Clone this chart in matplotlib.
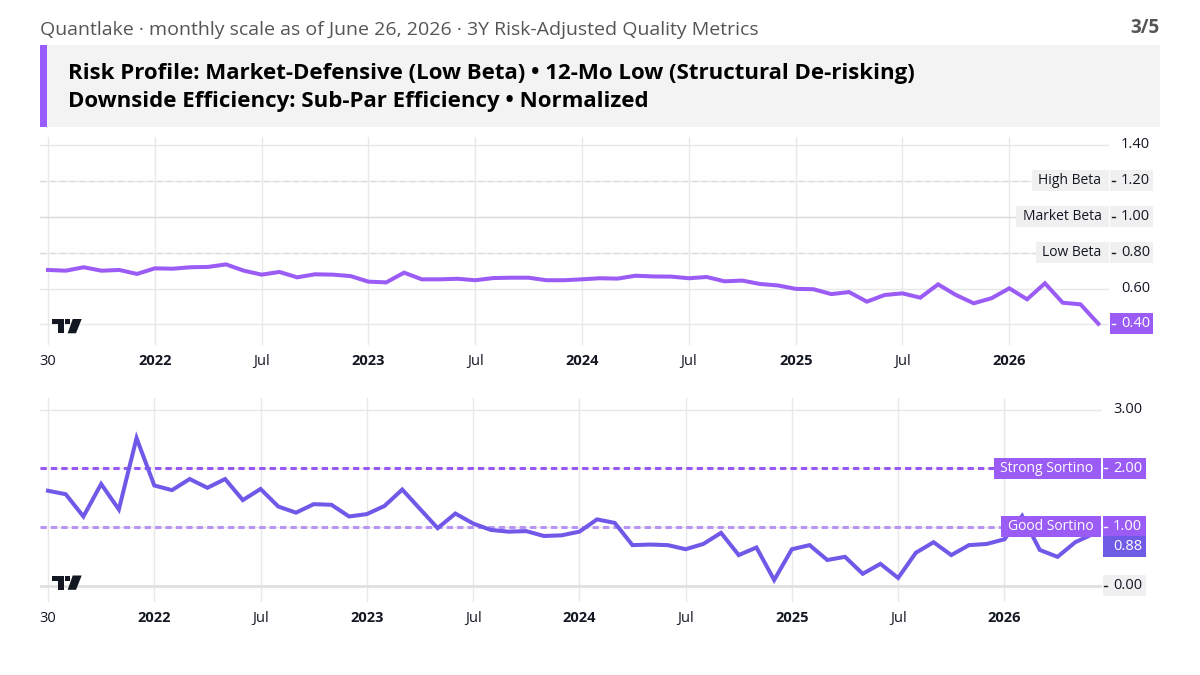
# Quantlake - 3Y beta e sortino (mensal)

import numpy as np
import matplotlib
matplotlib.use('Agg')
import matplotlib.pyplot as plt
from matplotlib.patches import Rectangle, Polygon

plt.rcParams['font.family'] = ['Open Sans', 'DejaVu Sans']
plt.rcParams['lines.scale_dashes'] = False

# dados (jul/2021 .. jun/2026, fim de mes)
x_labels = ['30', '2022', 'Jul', '2023', 'Jul', '2024', 'Jul', '2025', 'Jul', '2026']
x_label_pos = [0, 6, 12, 18, 24, 30, 36, 42, 48, 54]

beta = [0.703, 0.699, 0.718, 0.699, 0.703, 0.681, 0.712, 0.710, 0.718, 0.720,
        0.734, 0.699, 0.677, 0.692, 0.662, 0.679, 0.677, 0.669, 0.638, 0.634,
        0.688, 0.651, 0.651, 0.654, 0.646, 0.658, 0.660, 0.660, 0.646, 0.646,
        0.651, 0.657, 0.655, 0.671, 0.667, 0.666, 0.657, 0.664, 0.640, 0.644,
        0.625, 0.617, 0.598, 0.596, 0.569, 0.580, 0.527, 0.564, 0.573, 0.549,
        0.623, 0.564, 0.518, 0.546, 0.601, 0.540, 0.629, 0.521, 0.512, 0.404]

sortino = [1.62, 1.56, 1.18, 1.735, 1.30, 2.52, 1.71, 1.63, 1.82, 1.67,
           1.82, 1.46, 1.65, 1.35, 1.245, 1.39, 1.38, 1.18, 1.22, 1.36,
           1.64, 1.31, 0.98, 1.23, 1.06, 0.95, 0.92, 0.93, 0.846, 0.858,
           0.92, 1.13, 1.07, 0.69, 0.70, 0.69, 0.62, 0.71, 0.90, 0.52,
           0.65, 0.094, 0.62, 0.69, 0.436, 0.49, 0.20, 0.37, 0.13, 0.56,
           0.74, 0.52, 0.69, 0.71, 0.79, 1.19, 0.607, 0.49, 0.74, 0.88]

beta_ticks = [1.40, 1.20, 1.00, 0.80, 0.60, 0.40]
beta_bands = [1.20, 1.00, 0.80]
beta_band_names = ['High Beta', 'Market Beta', 'Low Beta']

sortino_ticks = [3.00, 2.00, 1.00, 0.00]
sortino_bands = [2.00, 1.00]
sortino_band_names = ['Strong Sortino', 'Good Sortino']

subtitle = 'Quantlake · monthly scale as of June 26, 2026 · 3Y Risk-Adjusted Quality Metrics'
header1 = 'Risk Profile: Market-Defensive (Low Beta) • 12-Mo Low (Structural De-risking)'
header2 = 'Downside Efficiency: Sub-Par Efficiency • Normalized'

c_beta = '#9b5cf6'
c_sort = '#7158e8'
c_strong = '#9659f6'
c_good = '#b794f6'
c_grid = '#e8e8e8'
c_text = '#131722'
c_box = '#f0f0f0'
fs = 10

W, H = 1200, 675


def fpx(x, y):
    return (x / W, 1 - y / H)


fig = plt.figure(figsize=(12, 6.75), dpi=100)
fig.patch.set_facecolor('white')

ax1 = fig.add_axes([40 / W, 1 - 345 / H, (1109 - 40) / W, 208 / H])
ax2 = fig.add_axes([40 / W, 1 - 602 / H, (1102 - 40) / W, 204 / H])

idx = np.arange(len(beta))

for ax in (ax1, ax2):
    for s in ax.spines.values():
        s.set_visible(False)
    ax.set_xticks(x_label_pos)
    ax.set_xticklabels(x_labels)
    ax.tick_params(axis='x', length=0, pad=6.5, labelsize=10.5, labelcolor=c_text)
    ax.tick_params(axis='y', length=0, labelleft=False, labelright=False)
    ax.grid(True, color=c_grid, lw=1, zorder=0)
    ax.set_axisbelow(True)
    for t in ax.get_xticklabels():
        if len(t.get_text()) == 4:
            t.set_fontweight('bold')

ax1.set_yticks(beta_ticks)
ax1.set_xlim(-0.449, 59.6)
ax1.set_ylim(0.286, 1.442)
ax2.set_yticks(sortino_ticks)
ax2.set_xlim(-0.452, 59.51)
ax2.set_ylim(-0.282, 3.205)

# linhas de referencia
for v in beta_bands:
    ls = '-' if v == 1.0 else (0, (4, 3))
    ax1.axhline(v, color='#dcdcdc', lw=1, ls=ls, zorder=1)
ax2.axhline(0, color='#e0e0e0', lw=2, zorder=1)
ax2.axhline(sortino_bands[0], color=c_strong, lw=2.2, ls=(0, (4.5, 3)), zorder=2)
ax2.axhline(sortino_bands[1], color=c_good, lw=2.2, ls=(0, (4.5, 3)), zorder=2)

ax1.plot(idx, beta, color=c_beta, lw=2.9, zorder=3, solid_joinstyle='miter')
ax2.plot(idx, sortino, color=c_sort, lw=2.9, zorder=3, solid_joinstyle='miter')

fig.canvas.draw()
renderer = fig.canvas.get_renderer()


def ppu(ax):
    bb = ax.get_window_extent()
    y0, y1 = ax.get_ylim()
    return bb.width, bb.height / (y1 - y0)


def price_tag(ax, v, text, face, tc, x0, x1, tx, tick=True, dy=0):
    aw, pu = ppu(ax)
    tr = ax.get_yaxis_transform()
    yc = v + dy / pu
    hu = 21 / pu
    if face is not None:
        ax.add_patch(Rectangle((1 + x0 / aw, yc - hu / 2), (x1 - x0) / aw, hu,
                               transform=tr, facecolor=face, edgecolor='none',
                               clip_on=False, zorder=6))
    if tick:
        ax.plot([1 + (x0 + 1.5) / aw, 1 + (x0 + 4.5) / aw], [yc, yc], color=tc,
                lw=1, transform=tr, clip_on=False, zorder=7)
    ax.text(1 + tx / aw, yc, text, transform=tr, ha='left', va='center',
            fontsize=fs + 0.5, color=tc, zorder=7, clip_on=False)


def name_tag(ax, v, text, face, tc, right_gap, text_gap):
    aw, pu = ppu(ax)
    tr = ax.get_yaxis_transform()
    t = ax.text(1 - text_gap / aw, v, text, transform=tr, ha='right', va='center',
                fontsize=fs, color=tc, zorder=7, clip_on=False)
    tw = t.get_window_extent(renderer).width
    x0 = -(text_gap + tw + 6.5)
    hu = 21 / pu
    ax.add_patch(Rectangle((1 + x0 / aw, v - hu / 2), (x0 * -1 - right_gap) / aw, hu,
                           transform=tr, facecolor=face, edgecolor='none',
                           clip_on=False, zorder=6))


# escala da direita - beta
for v in beta_ticks[:-1]:
    if v in beta_bands:
        price_tag(ax1, v, '%.2f' % v, c_box, c_text, 1, 44, 12)
    else:
        price_tag(ax1, v, '%.2f' % v, None, c_text, 1, 44, 12, tick=False)
for v, name in zip(beta_bands, beta_band_names):
    name_tag(ax1, v, name, c_box, c_text, 0.5, 7.5)
price_tag(ax1, beta[-1], '%.2f' % beta[-1], c_beta, 'white', 1, 44, 12)

# escala da direita - sortino
price_tag(ax2, 3.0, '3.00', None, c_text, 0.5, 44, 11, tick=False)
for v, name in zip(sortino_bands, sortino_band_names):
    price_tag(ax2, v, '%.2f' % v, c_beta, 'white', 0.5, 44, 11)
    name_tag(ax2, v, name, c_beta, 'white', 1, 8.5)
price_tag(ax2, 0.0, '0.00', c_box, c_text, 0.5, 44, 11)
aw2, pu2 = ppu(ax2)
shift = min(0, (1.0 - sortino[-1]) * pu2 - 20)
price_tag(ax2, sortino[-1], '%.2f' % sortino[-1], '#6f5ce6', 'white', 0.5, 44, 11,
          tick=False, dy=shift)

# logo TV
for base_y in (319, 575.5):
    bx = 51.7
    tshape = [(0, 0), (12.6, 0), (12.6, 14.3), (6.6, 14.3), (6.6, 5), (0, 5)]
    slash = [(21, 0), (30, 0), (24.3, 14.3), (16, 14.3)]
    fig.add_artist(Polygon([fpx(bx + a, base_y + b) for a, b in tshape],
                           closed=True, transform=fig.transFigure,
                           facecolor=c_text, edgecolor='none'))
    fig.add_artist(Polygon([fpx(bx + a, base_y + b) for a, b in slash],
                           closed=True, transform=fig.transFigure,
                           facecolor=c_text, edgecolor='none'))
    cx, cy = fpx(bx + 16, base_y + 2.7)
    fig.add_artist(Rectangle((cx - 2.7 / W, cy - 2.7 / H), 5.4 / W, 5.4 / H,
                             transform=fig.transFigure, facecolor=c_text,
                             edgecolor='none'))

# cabecalho
fig.text(40 / W, 1 - 30 / H, subtitle, fontsize=14, color='#555555', va='center', ha='left')
fig.text(1160 / W, 1 - 28 / H, '3/5', fontsize=13.5, color='#555555', va='center',
         ha='right', fontweight='bold')
fig.add_artist(Rectangle(fpx(40, 127), 1120 / W, 82 / H, transform=fig.transFigure,
                         facecolor='#f3f3f3', edgecolor='none'))
fig.add_artist(Rectangle(fpx(40, 127), 7 / W, 82 / H, transform=fig.transFigure,
                         facecolor='#9b5cff', edgecolor='none'))
fig.text(68 / W, 1 - 73 / H, header1, fontsize=16, fontweight='bold', color='black',
         va='center', ha='left')
fig.text(68 / W, 1 - 102 / H, header2, fontsize=16, fontweight='bold', color='black',
         va='center', ha='left')

fig.savefig('out.png', dpi=100)
